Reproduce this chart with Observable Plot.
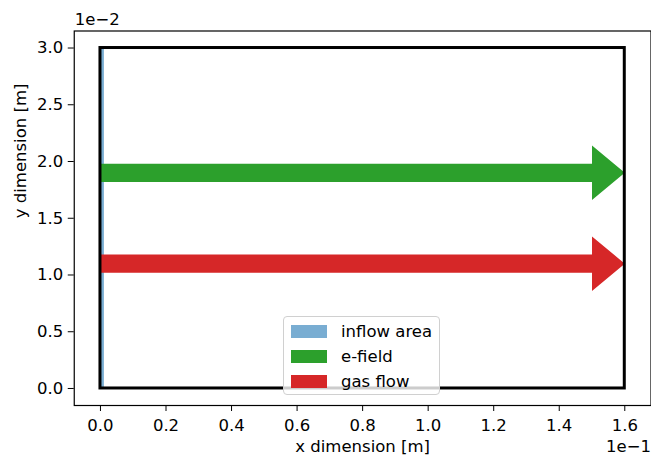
<!DOCTYPE html>
<html>
<head>
<meta charset="utf-8">
<script src="https://cdn.jsdelivr.net/npm/d3@7"></script>
<script src="https://cdn.jsdelivr.net/npm/@observablehq/plot@0.6"></script>
<style>
  html, body { margin: 0; padding: 0; background: #fff; }
  #wrap { position: relative; width: 651px; height: 456px; font-family: "DejaVu Sans", sans-serif; }
  #legend {
    position: absolute; left: 283px; top: 316px; width: 157px; height: 79px;
    box-sizing: border-box; border: 1px solid #d0d0d0; border-radius: 4px;
    background: rgba(255,255,255,0.8); font-size: 16.5px; color: #000;
  }
  .item { position: absolute; left: 7px; display: flex; align-items: center; }
  .sw { width: 36px; height: 13px; margin-right: 14px; }
</style>
</head>
<body>
<div id="wrap"></div>
<script>
// ---- data ----
const xTicks = [0, 0.2, 0.4, 0.6, 0.8, 1.0, 1.2, 1.4, 1.6];
const yTicks = [0, 0.5, 1.0, 1.5, 2.0, 2.5, 3.0];
const xDomain = [-0.08, 1.68];
const yDomain = [-0.15, 3.15];
const boxX = [0, 1.6];
const boxY = [0, 3.0];
const inflowX = [0, 0.012];
const inflowY = [0, 3.0];
const arrowNames = ["e-field", "gas flow"];
const arrowX0 = [0, 0];
const arrowY0 = [1.9, 1.1];
const arrowDx = [1.6, 1.6];
const arrowWidth = 0.16;
const arrowHeadWidth = 0.48;
const arrowHeadLength = 0.1;
const arrowColors = ["#2ca02c", "#d62728"];
const legendLabels = ["inflow area", "e-field", "gas flow"];
const legendColors = ["#79add2", "#2ca02c", "#d62728"];
const xLabel = "x dimension [m]";
const yLabel = "y dimension [m]";
const xOffsetText = "1e\u22121";
const yOffsetText = "1e\u22122";

// arrow polygons (built from the arrow parameters above)
function arrowPolygon(i) {
  const x0 = arrowX0[i], y = arrowY0[i], x1 = x0 + arrowDx[i];
  const xh = x1 - arrowHeadLength, w = arrowWidth / 2, h = arrowHeadWidth / 2;
  return [
    {x: x0, y: y - w}, {x: xh, y: y - w}, {x: xh, y: y - h}, {x: x1, y: y},
    {x: xh, y: y + h}, {x: xh, y: y + w}, {x: x0, y: y + w}, {x: x0, y: y - w}
  ];
}

const fs = 16.5;
const chart = Plot.plot({
  width: 651,
  height: 456,
  marginLeft: 73.75,
  marginRight: 0.5,
  marginTop: 30.5,
  marginBottom: 51,
  style: {fontFamily: "DejaVu Sans, sans-serif", fontSize: fs + "px", color: "#000", background: "#fff", overflow: "visible"},
  x: {domain: xDomain, ticks: xTicks, tickFormat: d => d.toFixed(1), tickSize: 6, tickPadding: 8, label: null},
  y: {domain: yDomain, ticks: yTicks, tickFormat: d => d.toFixed(1), tickSize: 6, tickPadding: 5, label: null},
  marks: [
    Plot.rect([{x1: inflowX[0], x2: inflowX[1], y1: inflowY[0], y2: inflowY[1]}],
      {x1: "x1", x2: "x2", y1: "y1", y2: "y2", fill: legendColors[0]}),
    ...arrowNames.map((n, i) => Plot.line(arrowPolygon(i), {x: "x", y: "y", fill: arrowColors[i], stroke: "none", curve: "linear-closed"})),
    Plot.rect([{x1: boxX[0], x2: boxX[1], y1: boxY[0], y2: boxY[1]}],
      {x1: "x1", x2: "x2", y1: "y1", y2: "y2", fill: "none", stroke: "#000", strokeWidth: 3}),
    Plot.frame({stroke: "#000", strokeWidth: 1.2}),
    Plot.text([xLabel], {frameAnchor: "bottom", text: d => d, dy: 41, lineAnchor: "middle", fontSize: fs}),
    Plot.text([yLabel], {frameAnchor: "left", text: d => d, dx: -54, rotate: -90, lineAnchor: "middle", fontSize: fs}),
    Plot.text([xOffsetText], {frameAnchor: "bottom-right", text: d => d, dy: 41.5, textAnchor: "end", lineAnchor: "middle", fontSize: fs}),
    Plot.text([yOffsetText], {frameAnchor: "top-left", text: d => d, dy: -11.5, dx: 0.5, textAnchor: "start", lineAnchor: "middle", fontSize: fs})
  ]
});
const wrap = document.getElementById("wrap");
wrap.appendChild(chart);

const legend = document.createElement("div");
legend.id = "legend";
legendLabels.forEach((lab, i) => {
  const it = document.createElement("div");
  it.className = "item";
  it.style.top = (5 + i * 25) + "px";
  const sw = document.createElement("div");
  sw.className = "sw";
  sw.style.background = legendColors[i];
  const tx = document.createElement("span");
  tx.textContent = lab;
  it.appendChild(sw); it.appendChild(tx);
  legend.appendChild(it);
});
wrap.appendChild(legend);
</script>
</body>
</html>
